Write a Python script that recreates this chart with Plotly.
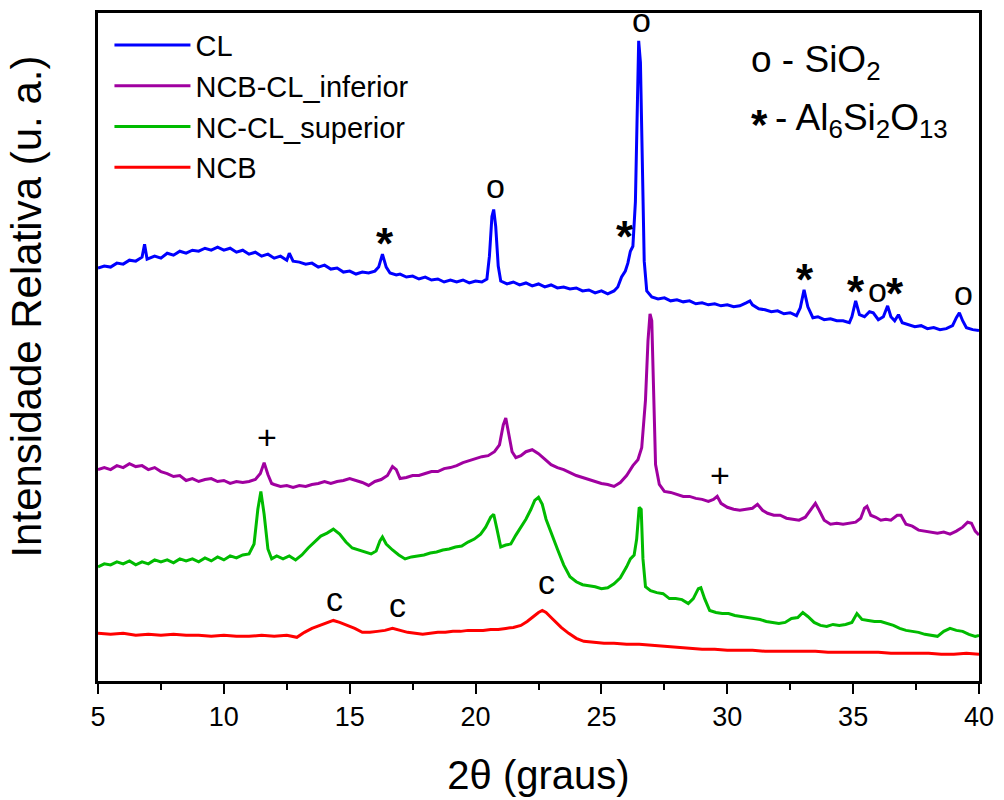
import plotly.graph_objects as go

# ---------------- data ----------------
# 2θ positions and relative intensities (arbitrary units) for each sample
cl_2theta = [5.0, 5.25, 5.5, 5.75, 6.0, 6.25, 6.5, 6.75, 6.85, 6.95, 7.25, 7.5, 7.75, 8.0, 8.25, 8.5, 8.75,
             9.0, 9.25, 9.5, 9.75, 10.0, 10.25, 10.5, 10.75, 11.0, 11.25, 11.5, 11.75, 12.0, 12.25, 12.5,
             12.6, 12.75, 13.0, 13.25, 13.5, 13.75, 14.0, 14.25, 14.5, 14.75, 15.0, 15.25, 15.5, 15.75,
             16.0, 16.15, 16.3, 16.45, 16.6, 16.85, 17.0, 17.25, 17.5, 17.75, 18.0, 18.25, 18.5, 18.75,
             19.0, 19.25, 19.5, 19.75, 20.0, 20.25, 20.45, 20.55, 20.65, 20.72, 20.8, 20.9, 21.0, 21.25,
             21.5, 21.75, 22.0, 22.25, 22.5, 22.75, 23.0, 23.25, 23.5, 23.75, 24.0, 24.25, 24.5, 24.75,
             25.0, 25.25, 25.5, 25.65, 25.8, 25.95, 26.05, 26.15, 26.25, 26.35, 26.43, 26.48, 26.55, 26.62,
             26.7, 26.8, 27.0, 27.25, 27.5, 27.75, 28.0, 28.25, 28.5, 28.75, 29.0, 29.25, 29.5, 29.75,
             30.0, 30.25, 30.5, 30.75, 30.9, 31.0, 31.25, 31.5, 31.75, 32.0, 32.25, 32.5, 32.75, 32.9,
             33.05, 33.2, 33.4, 33.6, 33.85, 34.1, 34.35, 34.6, 34.85, 34.95, 35.1, 35.25, 35.45, 35.65,
             35.8, 36.0, 36.2, 36.37, 36.5, 36.65, 36.8, 36.95, 37.2, 37.45, 37.7, 37.95, 38.2, 38.45,
             38.7, 38.95, 39.1, 39.22, 39.35, 39.5, 39.75, 40.0]
cl_intensity = [416, 418, 417, 421, 420, 424, 423, 427, 440, 425, 428, 426, 431, 429, 433, 431, 434,
                433, 436, 434, 437, 434, 436, 432, 434, 430, 432, 428, 430, 426, 428, 424,
                431, 423, 422, 420, 421, 417, 419, 415, 416, 412, 413, 410, 412, 411,
                413, 417, 430, 417, 411, 409, 410, 407, 408, 405, 407, 404, 405, 402,
                404, 402, 404, 401, 403, 402, 405, 428, 468, 475, 458, 418, 403, 400,
                402, 399, 401, 398, 400, 397, 399, 396, 397, 395, 396, 393, 394, 391,
                393, 390, 393, 397, 407, 413, 421, 433, 438, 483, 583, 645, 623, 533,
                423, 393, 387, 385, 386, 383, 384, 382, 383, 380, 381, 379, 380, 378,
                379, 377, 378, 381, 383, 379, 375, 374, 372, 373, 370, 371, 368, 376,
                394, 377, 366, 367, 364, 365, 363, 363, 361, 367, 383, 369, 367, 372,
                371, 364, 367, 378, 367, 363, 369, 361, 359, 357, 358, 355, 356, 354,
                355, 358, 366, 371, 363, 356, 354, 353]

ncbcl_2theta = [5.0, 5.25, 5.5, 5.75, 6.0, 6.25, 6.5, 6.75, 7.0, 7.25, 7.5, 7.75, 8.0, 8.25, 8.5, 8.75,
                9.0, 9.25, 9.5, 9.75, 10.0, 10.25, 10.5, 10.75, 11.0, 11.25, 11.45, 11.6, 11.75, 11.9,
                12.0, 12.25, 12.5, 12.75, 13.0, 13.25, 13.5, 13.75, 14.0, 14.25, 14.5, 14.75, 15.0,
                15.25, 15.5, 15.75, 16.0, 16.25, 16.5, 16.7, 16.85, 17.0, 17.25, 17.5, 17.75, 18.0,
                18.25, 18.5, 18.75, 19.0, 19.25, 19.5, 19.75, 20.0, 20.25, 20.5, 20.75, 20.95, 21.1,
                21.2, 21.3, 21.45, 21.6, 21.8, 22.0, 22.25, 22.5, 22.75, 23.0, 23.25, 23.5, 23.75,
                24.0, 24.25, 24.5, 24.75, 25.0, 25.25, 25.5, 25.75, 26.0, 26.25, 26.45, 26.6, 26.75,
                26.85, 26.93, 27.0, 27.08, 27.15, 27.3, 27.5, 27.75, 28.0, 28.25, 28.5, 28.75, 29.0,
                29.25, 29.45, 29.6, 29.75, 30.0, 30.25, 30.5, 30.75, 31.0, 31.2, 31.4, 31.6, 31.85,
                32.1, 32.35, 32.6, 32.85, 33.1, 33.35, 33.5, 33.65, 33.85, 34.1, 34.35, 34.6, 34.85,
                35.1, 35.3, 35.45, 35.55, 35.7, 35.9, 36.1, 36.3, 36.5, 36.75, 36.9, 37.1, 37.35,
                37.6, 37.85, 38.1, 38.35, 38.6, 38.85, 39.1, 39.35, 39.55, 39.7, 39.85, 40.0]
ncbcl_intensity = [213, 215, 213, 217, 215, 219, 216, 217, 213, 215, 211, 209, 206, 207, 202, 204,
                   201, 203, 204, 201, 202, 199, 201, 200, 201, 203, 209, 220, 208, 199,
                   198, 196, 197, 195, 197, 196, 198, 199, 201, 199, 201, 202, 204,
                   202, 200, 197, 201, 203, 207, 216, 213, 204, 205, 207, 207, 209,
                   211, 211, 214, 215, 217, 220, 222, 224, 226, 227, 231, 238, 258,
                   265, 251, 231, 225, 227, 231, 233, 229, 223, 218, 215, 213, 210,
                   207, 205, 203, 201, 199, 198, 196, 200, 207, 217, 223, 235, 283,
                   343, 370, 363, 283, 218, 198, 191, 190, 188, 186, 186, 184, 183,
                   181, 183, 186, 179, 175, 173, 172, 173, 174, 178, 172, 169, 167,
                   167, 164, 163, 162, 165, 173, 179, 172, 162, 158, 159, 158, 159,
                   160, 164, 174, 176, 167, 165, 162, 163, 162, 167, 167, 158, 156,
                   152, 151, 150, 149, 150, 148, 151, 155, 160, 159, 151, 147]

nccl_2theta = [5.0, 5.25, 5.5, 5.75, 6.0, 6.25, 6.5, 6.75, 7.0, 7.25, 7.5, 7.75, 8.0, 8.25, 8.5, 8.75,
               9.0, 9.25, 9.5, 9.75, 10.0, 10.25, 10.5, 10.75, 11.0, 11.2, 11.35, 11.47, 11.6, 11.75,
               11.9, 12.1, 12.35, 12.6, 12.85, 13.1, 13.35, 13.6, 13.85, 14.1, 14.35, 14.6, 14.85,
               15.1, 15.35, 15.6, 15.85, 16.05, 16.2, 16.3, 16.45, 16.7, 16.95, 17.2, 17.45, 17.7,
               17.95, 18.2, 18.45, 18.7, 18.95, 19.2, 19.45, 19.7, 19.95, 20.2, 20.4, 20.6, 20.72,
               20.85, 21.0, 21.2, 21.4, 21.6, 21.8, 22.0, 22.2, 22.35, 22.5, 22.65, 22.8, 23.0,
               23.25, 23.5, 23.75, 24.0, 24.25, 24.5, 24.75, 25.0, 25.25, 25.5, 25.75, 26.0, 26.15,
               26.3, 26.4, 26.5, 26.58, 26.65, 26.75, 26.95, 27.2, 27.45, 27.7, 27.95, 28.2, 28.45,
               28.65, 28.85, 28.95, 29.1, 29.3, 29.55, 29.8, 30.05, 30.3, 30.55, 30.8, 31.05, 31.3,
               31.55, 31.8, 32.05, 32.3, 32.55, 32.8, 33.0, 33.2, 33.45, 33.7, 33.95, 34.2, 34.45,
               34.7, 34.95, 35.15, 35.35, 35.6, 35.85, 36.1, 36.35, 36.6, 36.85, 37.1, 37.35, 37.6,
               37.85, 38.1, 38.35, 38.6, 38.85, 39.1, 39.35, 39.6, 39.85, 40.0]
nccl_intensity = [115, 118, 117, 120, 118, 121, 117, 120, 118, 122, 120, 122, 119, 123, 121, 123,
                  120, 124, 121, 125, 122, 126, 124, 127, 128, 138, 173, 191, 168, 133,
                  123, 126, 123, 126, 122, 127, 134, 140, 146, 149, 153, 148, 140,
                  134, 132, 130, 128, 131, 141, 145, 138, 132, 127, 123, 125, 126,
                  127, 129, 130, 132, 133, 135, 136, 140, 143, 148, 155, 165, 168,
                  153, 135, 137, 138, 147, 155, 163, 173, 182, 185, 178, 163, 149,
                  133, 117, 105, 100, 97, 96, 95, 93, 94, 98, 104, 115, 123,
                  127, 143, 175, 173, 123, 95, 91, 89, 88, 83, 83, 82, 78,
                  83, 93, 94, 83, 71, 69, 68, 68, 66, 65, 64, 63, 62,
                  60, 59, 58, 59, 63, 64, 69, 65, 59, 56, 55, 57, 56,
                  57, 59, 68, 62, 61, 60, 60, 58, 56, 53, 51, 50, 49,
                  47, 46, 45, 50, 53, 51, 50, 47, 45, 46]

ncb_2theta = [5.0, 5.5, 6.0, 6.5, 7.0, 7.5, 8.0, 8.5, 9.0, 9.5, 10.0, 10.5, 11.0, 11.5, 12.0, 12.5,
              12.9, 13.2, 13.5, 13.8, 14.1, 14.35, 14.6, 14.9, 15.2, 15.5, 15.8, 16.1, 16.4, 16.7,
              17.0, 17.3, 17.6, 17.9, 18.2, 18.5, 18.8, 19.1, 19.4, 19.7, 20.0, 20.3, 20.6, 20.9,
              21.2, 21.5, 21.8, 22.05, 22.3, 22.5, 22.65, 22.8, 23.0, 23.2, 23.4, 23.7, 24.0, 24.3,
              24.7, 25.1, 25.5, 26.0, 26.5, 27.0, 27.5, 28.0, 28.5, 29.0, 29.5, 30.0, 30.5, 31.0,
              31.5, 32.0, 32.5, 33.0, 33.5, 34.0, 34.5, 35.0, 35.5, 36.0, 36.5, 37.0, 37.5, 38.0,
              38.5, 39.0, 39.5, 40.0]
ncb_intensity = [48, 47, 48, 46, 47, 46, 47, 46, 46, 45, 46, 45, 45, 46, 45, 46,
                 44, 49, 53, 56, 59, 61, 59, 56, 53, 49, 49, 50, 51, 53,
                 51, 49, 48, 47, 48, 49, 49, 50, 50, 51, 51, 51, 52, 52,
                 53, 54, 56, 60, 65, 69, 71, 69, 64, 59, 54, 48, 43, 40,
                 39, 38, 38, 37, 37, 36, 35, 34, 33, 32, 32, 31, 31, 31,
                 30, 30, 30, 30, 30, 29, 29, 29, 29, 29, 28, 28, 28, 28,
                 27, 27, 28, 27]

series_names = ["CL", "NCB-CL_inferior", "NC-CL_superior", "NCB"]
series_colors = ["#0000FF", "#A000A0", "#00BB00", "#FF0000"]

# phase markers: (label, 2θ, intensity)
marker_labels = ["o", "o", "*", "*", "*", "*", "o", "*", "o", "+", "+", "c", "c", "c"]
marker_2theta = [26.6, 20.8, 16.4, 25.95, 33.1, 35.1, 35.95, 36.65, 39.4, 11.7, 29.7, 14.4, 16.9, 22.8]
marker_intensity = [666, 499, 451, 458, 415, 402, 394, 400, 391, 246, 208, 83, 77, 100]

FONT = "Liberation Sans, Arial, sans-serif"

fig = go.Figure()
xs = [cl_2theta, ncbcl_2theta, nccl_2theta, ncb_2theta]
ys = [cl_intensity, ncbcl_intensity, nccl_intensity, ncb_intensity]
for name, color, x, y in zip(series_names, series_colors, xs, ys):
    fig.add_trace(go.Scatter(x=x, y=y, mode="lines", name=name,
                             line=dict(color=color, width=3)))

for lab, x, y in zip(marker_labels, marker_2theta, marker_intensity):
    if lab == "*":
        txt = "<b>*</b>"
        fnt = dict(family=FONT, size=44, color="black")
        yshift = -10
    else:
        txt = lab
        fnt = dict(family=FONT, size=34, color="black")
        yshift = 0
    fig.add_annotation(x=x, y=y, text=txt, showarrow=False, font=fnt, yshift=yshift)

# phase key (top right)
fig.add_annotation(x=30.85, y=624, text="o - SiO<sub>2</sub>", showarrow=False, xanchor="left",
                   font=dict(family=FONT, size=37, color="black"))
fig.add_annotation(x=30.85, y=565, text="<b>*</b>", showarrow=False, xanchor="left",
                   font=dict(family=FONT, size=42, color="black"), yshift=-4)
fig.add_annotation(x=31.8, y=565, text="- Al<sub>6</sub>Si<sub>2</sub>O<sub>13</sub>", showarrow=False,
                   xanchor="left", font=dict(family=FONT, size=37, color="black"))

# y-axis title
fig.add_annotation(xref="paper", yref="paper", x=-0.081, y=0.56, text="Intensidade Relativa (u. a.)",
                   textangle=-90, showarrow=False, xanchor="center", yanchor="middle",
                   font=dict(family=FONT, size=42, color="black"))

fig.update_layout(
    width=1004, height=800,
    margin=dict(l=98, r=20, t=10, b=117),
    paper_bgcolor="white", plot_bgcolor="white",
    font=dict(family=FONT, color="black"),
    showlegend=True,
    legend=dict(x=0.013, y=0.99, xanchor="left", yanchor="top",
                font=dict(family=FONT, size=29, color="black"),
                bgcolor="rgba(0,0,0,0)", borderwidth=0, itemwidth=76,
                tracegroupgap=0),
    xaxis=dict(range=[5, 40], showgrid=False, zeroline=False,
               showline=True, linecolor="black", linewidth=2.5, mirror=True,
               ticks="outside", ticklen=10, tickwidth=2, tickcolor="black",
               tickvals=[5, 10, 15, 20, 25, 30, 35, 40],
               ticktext=["5", "10", "15", "20", "25", "30", "35", "40"],
               tickfont=dict(family=FONT, size=27, color="black"),
               minor=dict(tickvals=[7.5, 12.5, 17.5, 22.5, 27.5, 32.5, 37.5],
                          ticks="outside", ticklen=6, tickwidth=2, tickcolor="black"),
               title=dict(text="2θ (graus)", font=dict(family=FONT, size=40, color="black"),
                          standoff=30)),
    yaxis=dict(range=[0, 673], showgrid=False, zeroline=False,
               showline=True, linecolor="black", linewidth=2.5, mirror=True,
               ticks="", showticklabels=False),
)

fig.write_html("out.html")
